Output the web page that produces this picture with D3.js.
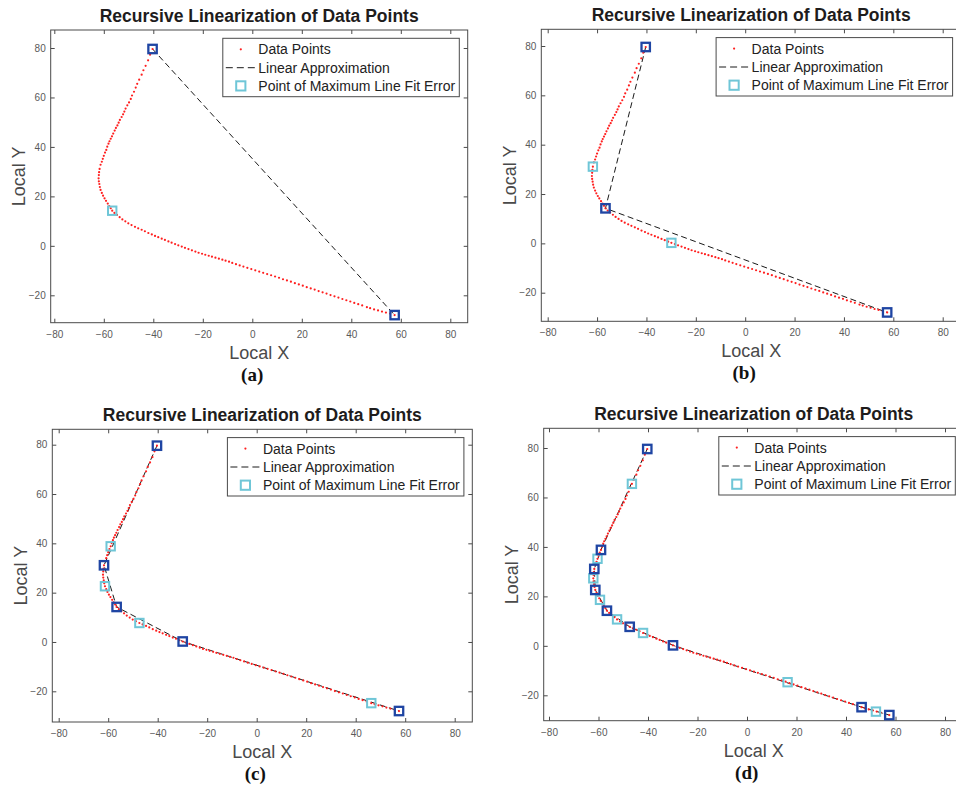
<!DOCTYPE html>
<html>
<head>
<meta charset="utf-8">
<script src="https://cdn.jsdelivr.net/npm/d3@7/dist/d3.min.js"></script>
<style>
  html, body { margin: 0; padding: 0; background: #fff; }
  svg { display: block; }
</style>
</head>
<body>
<svg id="fig" width="956" height="788"></svg>
<script>
// Ordered sample points along the trajectory (local frame)
const curvePoints = [
  [-40.3,79.6],[-41.3,77.3],[-42.1,75.0],[-43.1,72.8],[-44.0,71.0],[-44.7,69.2],[-45.7,67.2],[-46.5,65.5],
  [-47.1,64.0],[-47.8,62.3],[-48.6,60.8],[-49.1,59.4],[-49.8,58.0],[-50.5,56.8],[-51.2,55.5],[-51.7,54.3],
  [-52.2,53.2],[-52.8,52.1],[-53.5,50.9],[-54.0,49.8],[-54.5,48.7],[-55.1,47.7],[-55.6,46.6],[-56.2,45.4],
  [-56.7,44.3],[-57.2,43.3],[-57.7,42.3],[-58.1,41.3],[-58.6,40.1],[-59.0,38.8],[-59.5,37.7],[-60.0,36.4],
  [-60.4,35.2],[-60.8,34.0],[-61.3,32.8],[-61.7,31.1],[-61.9,29.8],[-62.0,28.6],[-62.1,27.3],[-62.0,26.1],
  [-61.8,25.0],[-61.6,23.8],[-61.3,22.6],[-60.8,21.4],[-60.3,20.3],[-59.7,19.2],[-59.1,18.2],[-58.4,17.1],
  [-57.8,16.1],[-57.2,15.2],[-56.6,14.2],[-55.7,13.3],[-54.7,12.5],[-53.6,11.6],[-52.5,10.7],[-51.3,9.9],
  [-50.1,9.1],[-48.8,8.4],[-47.4,7.7],[-46.1,7.1],[-44.7,6.5],[-43.4,5.9],[-42.0,5.2],[-40.6,4.6],
  [-39.3,4.0],[-38.0,3.5],[-36.6,2.9],[-35.3,2.4],[-33.9,1.8],[-32.6,1.3],[-31.2,0.7],[-29.9,0.2],
  [-28.5,-0.3],[-27.2,-0.8],[-25.8,-1.3],[-24.4,-1.8],[-23.0,-2.3],[-21.7,-2.8],[-20.3,-3.2],[-19.0,-3.6],
  [-17.6,-4.0],[-16.3,-4.4],[-14.9,-4.8],[-13.5,-5.2],[-12.1,-5.6],[-10.8,-6.0],[-9.4,-6.4],[-8.1,-6.9],
  [-6.6,-7.4],[-5.1,-7.9],[-3.6,-8.4],[-2.0,-8.9],[-0.4,-9.4],[1.2,-9.9],[2.8,-10.4],[4.4,-10.9],
  [6.0,-11.4],[7.6,-11.9],[9.2,-12.4],[10.8,-12.9],[12.4,-13.5],[14.0,-14.0],[15.6,-14.5],[17.2,-15.1],
  [18.8,-15.6],[20.4,-16.1],[22.0,-16.7],[23.6,-17.2],[25.2,-17.7],[26.8,-18.3],[28.4,-18.8],[30.0,-19.3],
  [31.6,-19.9],[33.2,-20.4],[34.8,-20.9],[36.4,-21.5],[38.0,-22.0],[39.6,-22.5],[41.2,-23.1],[42.8,-23.6],
  [44.4,-24.1],[46.3,-24.8],[47.6,-25.2],[49.2,-25.7],[50.8,-26.1],[52.4,-26.6],[54.0,-27.0],[55.7,-27.4],
  [57.5,-28.0]
];

// Segment endpoints kept after each recursion level
const breaksA = [[-40.3,79.6],[57.5,-28.0]];
const breaksB = [[-40.3,79.6],[-56.6,14.2],[57.5,-28.0]];
const breaksC = [[-40.3,79.6],[-61.7,31.1],[-56.6,14.2],[-29.9,0.2],[57.5,-28.0]];
const breaksD = [[-40.3,79.6],[-59.0,38.8],[-61.7,31.1],[-61.3,22.6],[-56.6,14.2],[-47.4,7.7],[-29.9,0.2],[46.3,-24.8],[57.5,-28.0]];

// Points of maximum line-fit error found at each level
const maxErrA = [[-56.6,14.2]];
const maxErrB = [[-61.7,31.1],[-29.9,0.2]];
const maxErrC = [[-59.0,38.8],[-61.3,22.6],[-47.4,7.7],[46.3,-24.8]];
const maxErrD = [[-46.5,65.5],[-60.4,35.2],[-62.1,27.3],[-59.4,18.6],[-52.5,10.7],[-42.0,5.2],[16.4,-14.7],[52.1,-26.6]];

const xTicks = [-80,-60,-40,-20,0,20,40,60,80];
const yTicks = [-20,0,20,40,60,80];
const titleText = "Recursive Linearization of Data Points";
const xLabel = "Local X";
const yLabel = "Local Y";
const legendLabels = ["Data Points","Linear Approximation","Point of Maximum Line Fit Error"];
const panelTags = ["(a)","(b)","(c)","(d)"];

// Panel frames: pixel positions of x=-80/80 and y=80/-20, plus the axes box
const layout = [
  { xr:[54.3,450.3], yr:[48,295.3],   box:[50.7,30,467.7,322.7] },
  { xr:[547.7,942.7], yr:[46,292.7],  box:[541.3,29.3,961,321.3] },
  { xr:[58.7,454.7], yr:[444.7,691.3], box:[52.3,429.3,472.3,722] },
  { xr:[549,945],    yr:[448,695.3],  box:[543.7,428.3,963.7,720.7] }
];
const stages = [
  { breaks: breaksA, maxErr: maxErrA },
  { breaks: breaksB, maxErr: maxErrB },
  { breaks: breaksC, maxErr: maxErrC },
  { breaks: breaksD, maxErr: maxErrD }
];

const COL = {
  dot: "#ff1f1f",
  dash: "#1a1a1a",
  cyan: "#6fc6d7",
  dark: "#1f45a3",
  box: "#4a4a4a",
  tick: "#5a5a5a",
  label: "#4a4a4a",
  title: "#1e1c1c"
};
const SANS = "'Liberation Sans', Arial, Helvetica, sans-serif";
const SERIF = "'Liberation Serif', 'Times New Roman', serif";

const svg = d3.select("#fig");

function square(g, pts, x, y, color, sw) {
  g.selectAll(null).data(pts).join("rect")
    .attr("x", d => x(d[0]) - 4.2).attr("y", d => y(d[1]) - 4.2)
    .attr("width", 8.4).attr("height", 8.4)
    .attr("fill", "none").attr("stroke", color).attr("stroke-width", sw);
}

layout.forEach((L, i) => {
  const [bl, bt, br, bb] = L.box;
  const x = d3.scaleLinear().domain([-80, 80]).range(L.xr);
  const y = d3.scaleLinear().domain([80, -20]).range(L.yr);
  const g = svg.append("g");

  // axes box
  g.append("rect").attr("x", bl).attr("y", bt).attr("width", br - bl).attr("height", bb - bt)
    .attr("fill", "#fff").attr("stroke", COL.box).attr("stroke-width", 1);

  // ticks via d3 axes: bottom/left with labels, top/right ticks only (all inward)
  const axB = g.append("g").attr("transform", `translate(0,${bb})`)
    .call(d3.axisBottom(x).tickValues(xTicks).tickSize(-4).tickPadding(8).tickFormat(d3.format("d")));
  const axT = g.append("g").attr("transform", `translate(0,${bt})`)
    .call(d3.axisTop(x).tickValues(xTicks).tickSize(-4).tickFormat(""));
  const axL = g.append("g").attr("transform", `translate(${bl},0)`)
    .call(d3.axisLeft(y).tickValues(yTicks).tickSize(-4).tickPadding(8).tickFormat(d3.format("d")));
  const axR = g.append("g").attr("transform", `translate(${br},0)`)
    .call(d3.axisRight(y).tickValues(yTicks).tickSize(-4).tickFormat(""));
  [axB, axT, axL, axR].forEach(a => {
    a.select(".domain").remove();
    a.selectAll(".tick line").attr("stroke", COL.box);
    a.selectAll(".tick text").attr("fill", COL.tick).style("font-family", SANS).style("font-size", "10px");
  });
  axL.selectAll(".tick text").attr("x", -5);

  const st = stages[i];

  // piecewise linear approximation
  g.append("path").datum(st.breaks)
    .attr("d", d3.line().x(d => x(d[0])).y(d => y(d[1])))
    .attr("fill", "none").attr("stroke", COL.dash).attr("stroke-width", 1)
    .attr("stroke-dasharray", "6,3.5");

  // data points
  g.selectAll(null).data(curvePoints).join("circle")
    .attr("cx", d => x(d[0])).attr("cy", d => y(d[1])).attr("r", 1.1)
    .attr("fill", COL.dot);

  square(g, st.maxErr, x, y, COL.cyan, 2);
  square(g, st.breaks, x, y, COL.dark, 2.3);

  // title
  g.append("text").attr("x", (bl + br) / 2).attr("y", bt - 8)
    .attr("text-anchor", "middle").attr("fill", COL.title)
    .style("font-family", SANS).style("font-weight", "bold").style("font-size", "17.5px")
    .text(titleText);

  // axis labels
  g.append("text").attr("x", (bl + br) / 2).attr("y", bb + 36)
    .attr("text-anchor", "middle").attr("fill", COL.label)
    .style("font-family", SANS).style("font-size", "18px").text(xLabel);
  g.append("text")
    .attr("transform", `translate(${bl - 25.5},${(bt + bb) / 2}) rotate(-90)`)
    .attr("text-anchor", "middle").attr("fill", COL.label)
    .style("font-family", SANS).style("font-size", "18px").text(yLabel);

  // sub-figure tag
  g.append("text").attr("x", (bl + br) / 2 - 7).attr("y", bb + 58)
    .attr("text-anchor", "middle").attr("fill", "#111")
    .style("font-family", SERIF).style("font-weight", "bold").style("font-size", "19px")
    .text(panelTags[i]);

  // legend
  const lw = 236.5, lh = 58.4;
  const lx = br - 8.4 - lw, ly = bt + 8.3;
  const lg = g.append("g").attr("transform", `translate(${lx},${ly})`);
  lg.append("rect").attr("width", lw).attr("height", lh)
    .attr("fill", "#fff").attr("stroke", COL.box).attr("stroke-width", 1);
  const rows = [11, 29.4, 47.6];
  lg.append("circle").attr("cx", 18).attr("cy", rows[0]).attr("r", 1.1).attr("fill", COL.dot);
  lg.append("line").attr("x1", 3).attr("x2", 34).attr("y1", rows[1]).attr("y2", rows[1])
    .attr("stroke", COL.dash).attr("stroke-width", 1).attr("stroke-dasharray", "7,4");
  lg.append("rect").attr("x", 18 - 4.6).attr("y", rows[2] - 4.6).attr("width", 9.2).attr("height", 9.2)
    .attr("fill", "none").attr("stroke", COL.cyan).attr("stroke-width", 2);
  lg.selectAll("text.lab").data(legendLabels).join("text").attr("class", "lab")
    .attr("x", 35.5).attr("y", (d, k) => rows[k] + 5)
    .attr("fill", "#222").style("font-family", SANS).style("font-size", "14px")
    .text(d => d);
});
</script>
</body>
</html>
